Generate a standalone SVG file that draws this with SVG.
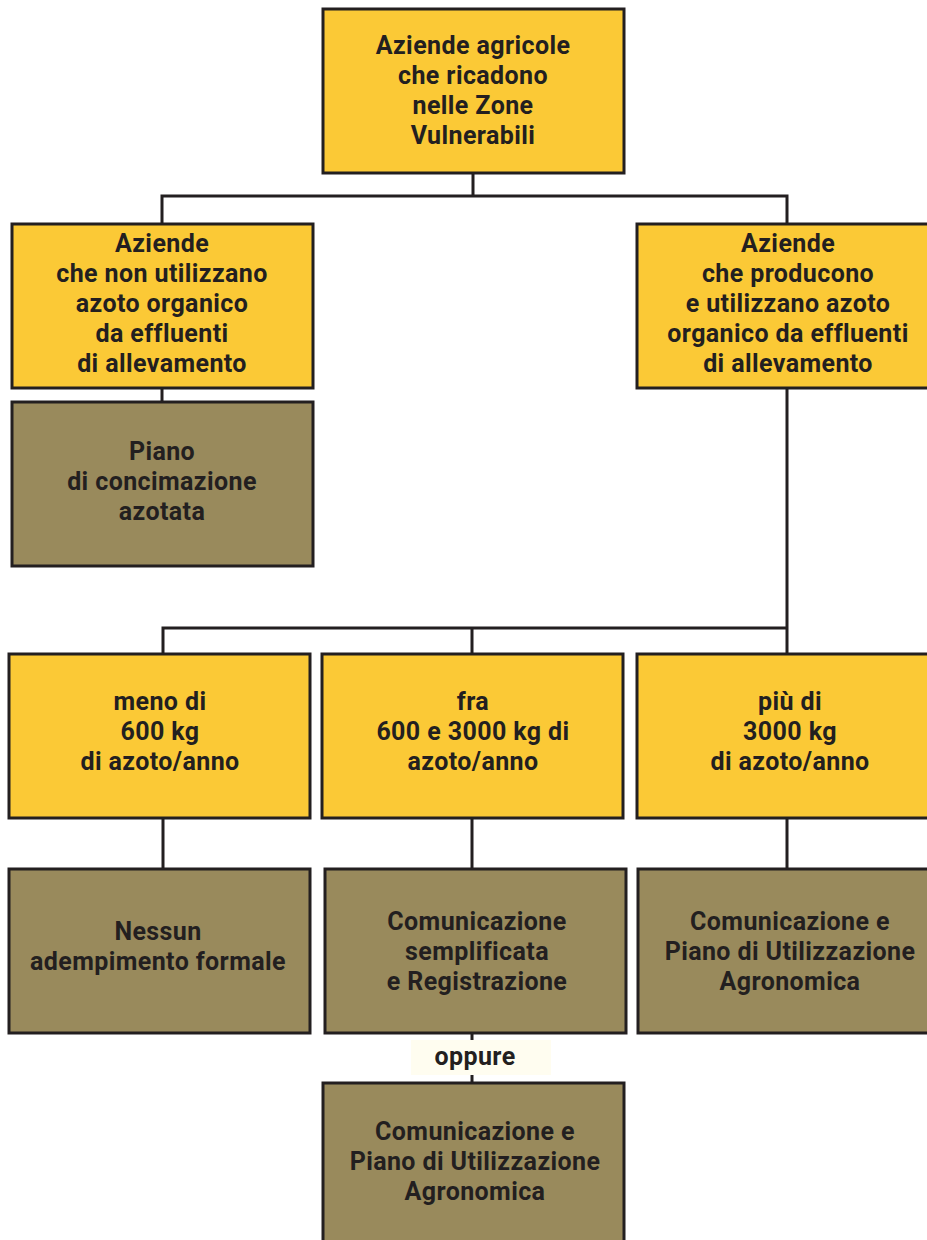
<svg xmlns="http://www.w3.org/2000/svg" width="927" height="1240" viewBox="0 0 927 1240">
<style>
.y{fill:#fbc936;stroke:#231f20;stroke-width:3}
.o{fill:#998a5c;stroke:#231f20;stroke-width:3}
.t{font-family:Roboto,"Liberation Sans",sans-serif;font-weight:bold;font-size:25px;letter-spacing:0.4px;fill:#231f20;text-anchor:middle}
.c{fill:none;stroke:#231f20;stroke-width:3}
</style>
<rect width="927" height="1240" fill="#ffffff"/>
<g id="connectors">
<path class="c" d="M473 173V196M162 224V196H787V224"/>
<path class="c" d="M162 388V402"/>
<path class="c" d="M787 388V654M163 654V628H787M472 628V654"/>
<path class="c" d="M163 818V869M472 818V869M787 818V869"/>
<path class="c" d="M472 1033V1083"/>
</g>
<g id="n_top"><rect class="y" x="323" y="9" width="301" height="164"/>
<text class="t" x="473" y="54">Aziende agricole</text><text class="t" x="473" y="84">che ricadono</text><text class="t" x="473" y="114">nelle Zone</text><text class="t" x="473" y="144">Vulnerabili</text></g>
<g id="n_left"><rect class="y" x="12" y="224" width="301" height="164"/>
<text class="t" x="162" y="252">Aziende</text><text class="t" x="162" y="282">che non utilizzano</text><text class="t" x="162" y="312">azoto organico</text><text class="t" x="162" y="342">da effluenti</text><text class="t" x="162" y="372">di allevamento</text></g>
<g id="n_right"><rect class="y" x="637" y="224" width="302" height="164"/>
<text class="t" x="788" y="252">Aziende</text><text class="t" x="788" y="282">che producono</text><text class="t" x="788" y="312">e utilizzano azoto</text><text class="t" x="788" y="342">organico da effluenti</text><text class="t" x="788" y="372">di allevamento</text></g>
<g id="n_piano"><rect class="o" x="12" y="402" width="301" height="164"/>
<text class="t" x="162" y="460">Piano</text><text class="t" x="162" y="490">di concimazione</text><text class="t" x="162" y="520">azotata</text></g>
<g id="n_meno"><rect class="y" x="9" y="654" width="301" height="164"/>
<text class="t" x="160" y="710">meno di</text><text class="t" x="160" y="740">600 kg</text><text class="t" x="160" y="770">di azoto/anno</text></g>
<g id="n_fra"><rect class="y" x="322" y="654" width="301" height="164"/>
<text class="t" x="473" y="710">fra</text><text class="t" x="473" y="740">600 e 3000 kg di</text><text class="t" x="473" y="770">azoto/anno</text></g>
<g id="n_piu"><rect class="y" x="637" y="654" width="302" height="164"/>
<text class="t" x="790" y="710">più di</text><text class="t" x="790" y="740">3000 kg</text><text class="t" x="790" y="770">di azoto/anno</text></g>
<g id="n_nessun"><rect class="o" x="9" y="869" width="301" height="164"/>
<text class="t" x="158" y="940">Nessun</text><text class="t" x="158" y="970">adempimento formale</text></g>
<g id="n_semp"><rect class="o" x="325" y="869" width="301" height="164"/>
<text class="t" x="477" y="930">Comunicazione</text><text class="t" x="477" y="960">semplificata</text><text class="t" x="477" y="990">e Registrazione</text></g>
<g id="n_pua1"><rect class="o" x="638" y="869" width="302" height="164"/>
<text class="t" x="790" y="930">Comunicazione e</text><text class="t" x="790" y="960">Piano di Utilizzazione</text><text class="t" x="790" y="990">Agronomica</text></g>
<g id="n_oppure"><rect x="411" y="1040" width="140" height="35" fill="#fffdf0"/>
<text class="t" x="475" y="1065">oppure</text></g>
<g id="n_pua2"><rect class="o" x="323" y="1083" width="301" height="170"/>
<text class="t" x="475" y="1140">Comunicazione e</text><text class="t" x="475" y="1170">Piano di Utilizzazione</text><text class="t" x="475" y="1200">Agronomica</text></g>
</svg>
